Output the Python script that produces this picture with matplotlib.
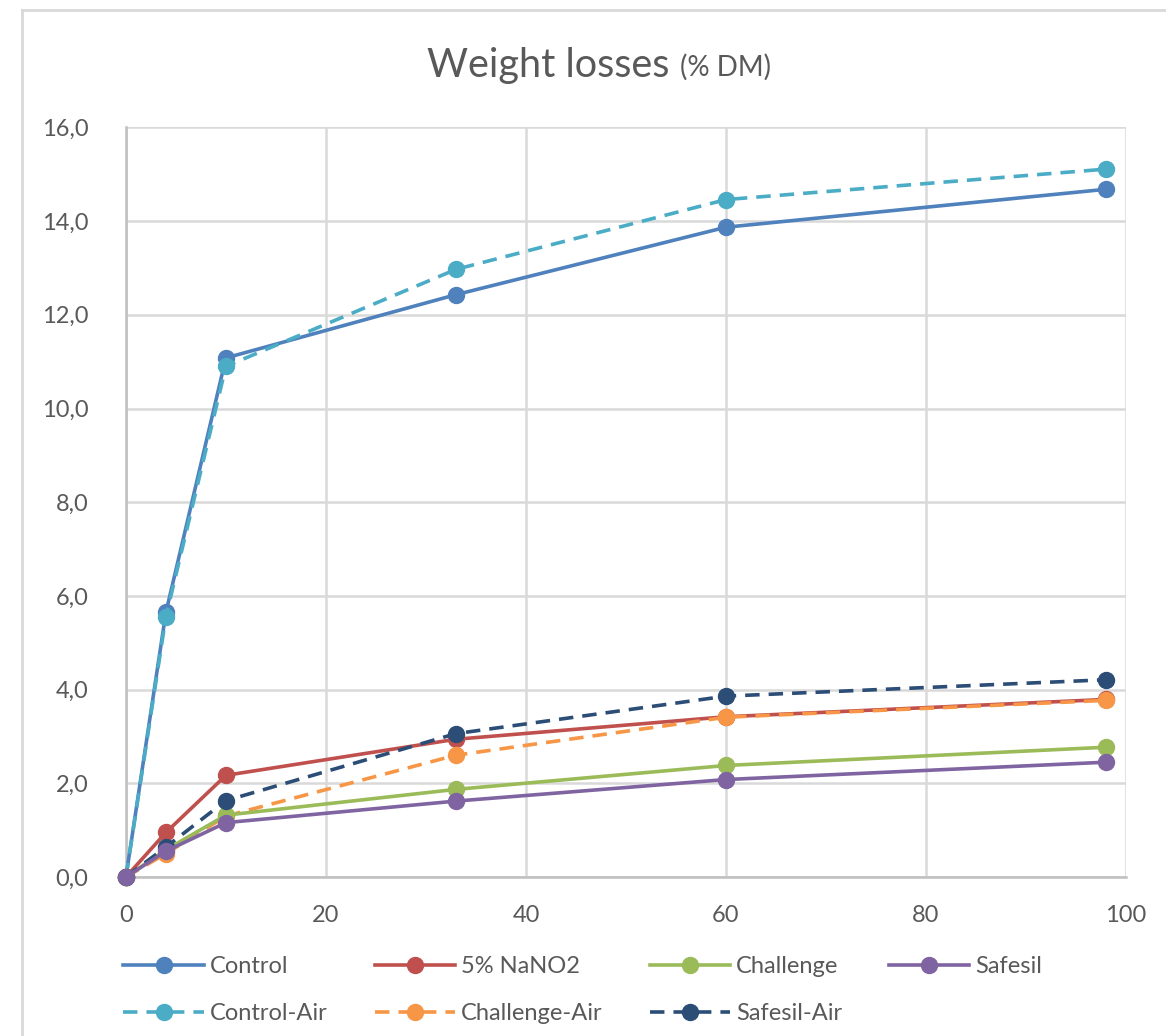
import matplotlib
matplotlib.use("Agg")
import matplotlib.pyplot as plt
from matplotlib.ticker import FuncFormatter
from matplotlib.lines import Line2D

plt.rcParams['font.family'] = ['Lato', 'DejaVu Sans']

days = [0, 4, 10, 33, 60, 98]
control = [0.0, 5.65, 11.08, 12.43, 13.87, 14.68]
nano2 = [0.0, 0.95, 2.17, 2.94, 3.42, 3.79]
challenge = [0.0, 0.58, 1.32, 1.87, 2.38, 2.77]
safesil = [0.0, 0.55, 1.16, 1.62, 2.08, 2.45]
control_air = [0.0, 5.56, 10.9, 12.97, 14.46, 15.11]
challenge_air = [0.0, 0.5, 1.3, 2.6, 3.41, 3.77]
safesil_air = [0.0, 0.64, 1.63, 3.06, 3.86, 4.21]

gray = "#595959"

fig = plt.figure(figsize=(11.66, 10.36), dpi=100)
ax = fig.add_axes([0.108, 0.1535, 0.8577, 0.7235])

# outer chart border (only left and top visible in the crop)
fig.add_artist(Line2D([0.019, 0.019], [-0.01, 0.9905], transform=fig.transFigure,
                      color="#D9D9D9", linewidth=2))
fig.add_artist(Line2D([0.019, 1.01], [0.9905, 0.9905], transform=fig.transFigure,
                      color="#D9D9D9", linewidth=2))

def draw(y, color, ls, label):
    ax.plot(days, y, color=color, linestyle=ls, linewidth=2.6, marker="o",
            markersize=11.5, label=label, clip_on=False, zorder=3,
            dashes=(4, 2.5) if ls == "--" else (None, None))

# order so the legend fills rows like the original
draw(control, "#4F81BD", "-", "Control")
draw(control_air, "#4BACC6", "--", "Control-Air")
draw(nano2, "#C0504D", "-", "5% NaNO2")
draw(challenge_air, "#F79646", "--", "Challenge-Air")
draw(challenge, "#9BBB59", "-", "Challenge")
draw(safesil_air, "#2C4D75", "--", "Safesil-Air")
draw(safesil, "#8064A2", "-", "Safesil")

ax.set_xlim(0, 100)
ax.set_ylim(0, 16)
ax.set_xticks(range(0, 101, 20))
ax.set_yticks(range(0, 17, 2))
ax.yaxis.set_major_formatter(FuncFormatter(lambda v, p: f"{v:.1f}".replace(".", ",")))
ax.grid(True, color="#D9D9D9", linewidth=1.8)
ax.set_axisbelow(True)
for s in ["top", "right"]:
    ax.spines[s].set_visible(False)
for s in ["left", "bottom"]:
    ax.spines[s].set_color("#BFBFBF")
    ax.spines[s].set_linewidth(1.8)
ax.tick_params(length=0, labelsize=17, labelcolor=gray)
ax.tick_params(axis="y", pad=27)
ax.tick_params(axis="x", pad=20)

fig.text(0.574, 0.937, "Weight losses", ha="right", va="center", fontsize=28.5, color=gray)
fig.text(0.583, 0.935, "(% DM)", ha="left", va="center", fontsize=20, color=gray)

ax.legend(loc="upper left", bbox_to_anchor=(-0.012, -0.093), ncol=4, frameon=False,
          fontsize=17, labelcolor=gray, handlelength=3.4, handletextpad=0.25,
          columnspacing=2.0, labelspacing=1.1, borderaxespad=0)

fig.savefig("out.png", dpi=100)
